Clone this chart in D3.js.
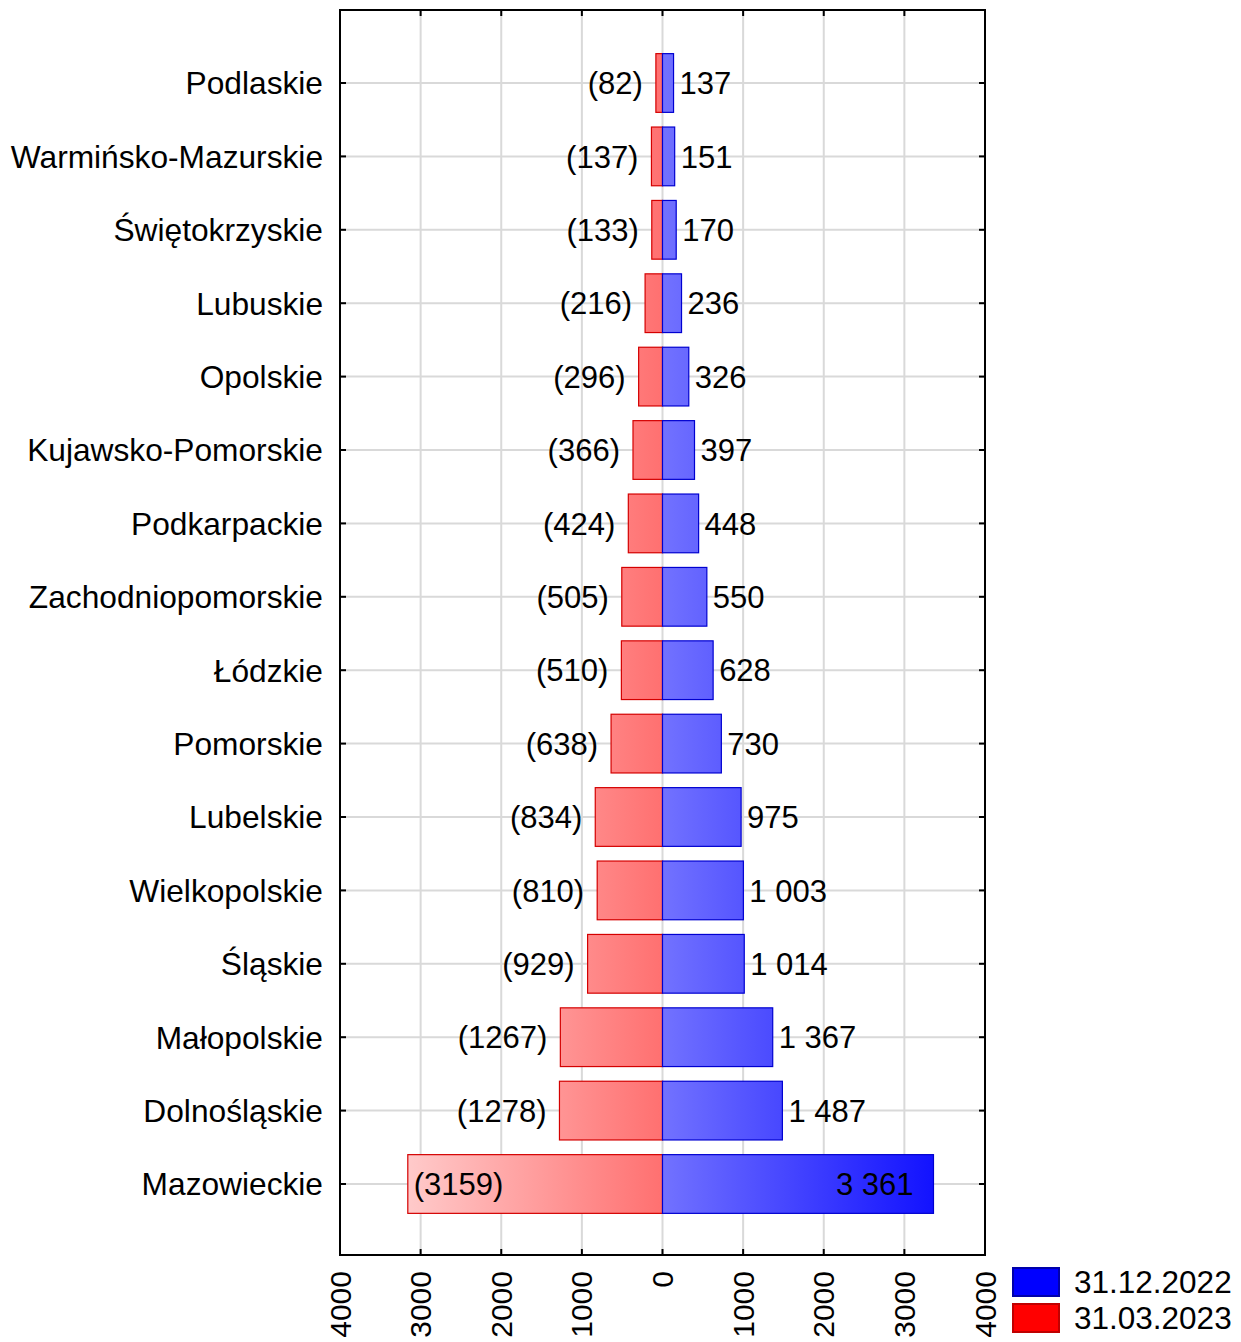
<!DOCTYPE html>
<html>
<head>
<meta charset="utf-8">
<script src="https://cdn.jsdelivr.net/npm/d3@7"></script>
<style>
  body { margin: 0; background: #fff; }
  svg text { font-family: "Liberation Sans", Arial, sans-serif; fill: #000; }
</style>
</head>
<body>
<svg id="chart" width="1241" height="1342"></svg>
<script>
// Data
const regions = ['Podlaskie', 'Warmińsko-Mazurskie', 'Świętokrzyskie', 'Lubuskie', 'Opolskie',
  'Kujawsko-Pomorskie', 'Podkarpackie', 'Zachodniopomorskie', 'Łódzkie', 'Pomorskie',
  'Lubelskie', 'Wielkopolskie', 'Śląskie', 'Małopolskie', 'Dolnośląskie', 'Mazowieckie'];
const dec2022 = [137, 151, 170, 236, 326, 397, 448, 550, 628, 730, 975, 1003, 1014, 1367, 1487, 3361];
const mar2023 = [82, 137, 133, 216, 296, 366, 424, 505, 510, 638, 834, 810, 929, 1267, 1278, 3159];
const xTicks = [-4000, -3000, -2000, -1000, 0, 1000, 2000, 3000, 4000];
const seriesNames = ['31.12.2022', '31.03.2023'];

const svg = d3.select('#chart');
const plotL = 340, plotR = 985, plotT = 10, plotB = 1255;

const x = d3.scaleLinear().domain([-4000, 4000]).range([plotL, plotR]);
// row i sits at y(i + 1)
const y = d3.scaleLinear().domain([1, regions.length]).range([83, 1184]);
const band = y(2) - y(1);
const barH = band * 0.8;

// gradients (user space, along the axis)
const defs = svg.append('defs');
const gRed = defs.append('linearGradient').attr('id', 'gRed')
  .attr('gradientUnits', 'userSpaceOnUse')
  .attr('x1', x(-4000)).attr('x2', x(0)).attr('y1', 0).attr('y2', 0);
gRed.append('stop').attr('offset', '0%').attr('stop-color', '#ffe2e2');
gRed.append('stop').attr('offset', '100%').attr('stop-color', '#ff7070');
const gBlue = defs.append('linearGradient').attr('id', 'gBlue')
  .attr('gradientUnits', 'userSpaceOnUse')
  .attr('x1', x(0)).attr('x2', x(4000)).attr('y1', 0).attr('y2', 0);
gBlue.append('stop').attr('offset', '0%').attr('stop-color', '#7272ff');
gBlue.append('stop').attr('offset', '100%').attr('stop-color', '#0000ff');

// grid
svg.append('g').selectAll('line').data(xTicks.slice(1, -1)).join('line')
  .attr('x1', d => x(d)).attr('x2', d => x(d))
  .attr('y1', plotT).attr('y2', plotB)
  .attr('stroke', '#d9d9d9').attr('stroke-width', 2);
svg.append('g').selectAll('line').data(regions).join('line')
  .attr('x1', plotL).attr('x2', plotR)
  .attr('y1', (d, i) => y(i + 1)).attr('y2', (d, i) => y(i + 1))
  .attr('stroke', '#d9d9d9').attr('stroke-width', 2);

// bars
const rows = svg.append('g').selectAll('g').data(regions).join('g');
rows.append('rect')
  .attr('x', (d, i) => x(-mar2023[i]))
  .attr('width', (d, i) => x(0) - x(-mar2023[i]))
  .attr('y', (d, i) => y(i + 1) - barH / 2)
  .attr('height', barH)
  .attr('fill', 'url(#gRed)')
  .attr('stroke', '#d40000').attr('stroke-width', 1.2);
rows.append('rect')
  .attr('x', x(0))
  .attr('width', (d, i) => x(dec2022[i]) - x(0))
  .attr('y', (d, i) => y(i + 1) - barH / 2)
  .attr('height', barH)
  .attr('fill', 'url(#gBlue)')
  .attr('stroke', '#0000d0').attr('stroke-width', 1.2);

// value labels
const fmtBlue = v => d3.format(',')(v).replace(/,/g, ' ');
const last = regions.length - 1;
rows.append('text')
  .attr('x', (d, i) => i === last ? x(-mar2023[i]) + 6 : x(-mar2023[i]) - 13)
  .attr('y', (d, i) => y(i + 1))
  .attr('dy', '0.36em')
  .attr('text-anchor', (d, i) => i === last ? 'start' : 'end')
  .attr('font-size', 31)
  .text((d, i) => `(${mar2023[i]})`);
rows.append('text')
  .attr('x', (d, i) => i === last ? x(dec2022[i]) - 20 : x(dec2022[i]) + 6)
  .attr('y', (d, i) => y(i + 1))
  .attr('dy', '0.36em')
  .attr('text-anchor', (d, i) => i === last ? 'end' : 'start')
  .attr('font-size', 31)
  .text((d, i) => fmtBlue(dec2022[i]));

// category labels
svg.append('g').selectAll('text').data(regions).join('text')
  .attr('x', plotL - 17)
  .attr('y', (d, i) => y(i + 1))
  .attr('dy', '0.36em')
  .attr('text-anchor', 'end')
  .attr('font-size', 31.7)
  .text(d => d);

// frame and inward ticks
svg.append('rect')
  .attr('x', plotL).attr('y', plotT)
  .attr('width', plotR - plotL).attr('height', plotB - plotT)
  .attr('fill', 'none').attr('stroke', '#000').attr('stroke-width', 2);
const tickLen = 6;
const tk = svg.append('g').attr('stroke', '#000').attr('stroke-width', 2);
xTicks.forEach(t => {
  tk.append('line').attr('x1', x(t)).attr('x2', x(t)).attr('y1', plotB).attr('y2', plotB - tickLen);
  tk.append('line').attr('x1', x(t)).attr('x2', x(t)).attr('y1', plotT).attr('y2', plotT + tickLen);
});
regions.forEach((r, i) => {
  tk.append('line').attr('x1', plotL).attr('x2', plotL + tickLen).attr('y1', y(i + 1)).attr('y2', y(i + 1));
  tk.append('line').attr('x1', plotR).attr('x2', plotR - tickLen).attr('y1', y(i + 1)).attr('y2', y(i + 1));
});

// x tick labels (rotated, absolute values)
svg.append('g').selectAll('text').data(xTicks).join('text')
  .attr('transform', d => `translate(${x(d)},${plotB + 16}) rotate(-90)`)
  .attr('dy', '0.35em')
  .attr('text-anchor', 'end')
  .attr('font-size', 30)
  .text(d => Math.abs(d));

// legend
const legendFill = ['#0000ff', '#ff0000'];
const legendStroke = ['#0000aa', '#c00000'];
const lg = svg.append('g').attr('transform', 'translate(1012,1267)');
seriesNames.forEach((s, i) => {
  lg.append('rect').attr('x', 1).attr('y', i * 36 + 1).attr('width', 46).attr('height', 28)
    .attr('fill', legendFill[i]).attr('stroke', legendStroke[i]).attr('stroke-width', 2);
  lg.append('text').attr('x', 62).attr('y', i * 36 + 15).attr('dy', '0.35em')
    .attr('font-size', 31.5).text(s);
});
</script>
</body>
</html>
